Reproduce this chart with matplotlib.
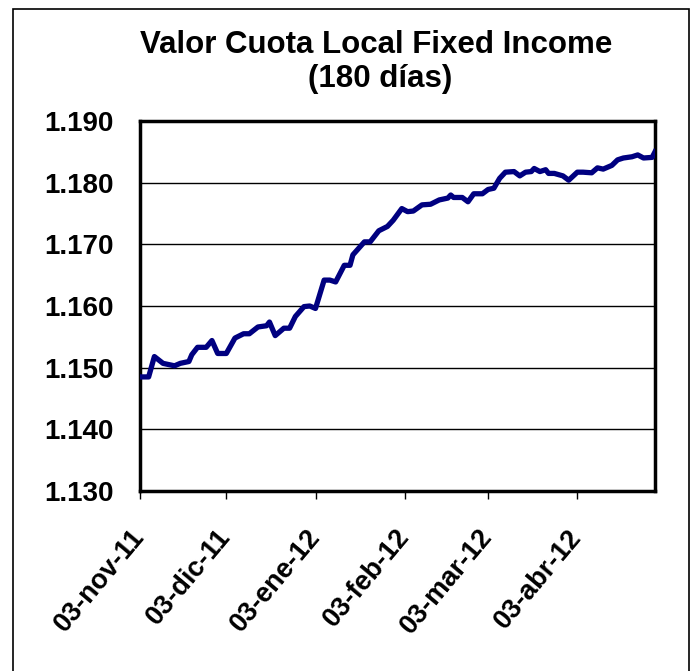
import numpy as np
import matplotlib
matplotlib.use('Agg')
import matplotlib.pyplot as plt
import matplotlib.dates as mdates
from matplotlib.patches import Rectangle
from datetime import datetime

plt.rcParams['font.family'] = ['Liberation Sans', 'DejaVu Sans']

# Values
dates = ['2011-11-03', '2011-11-06', '2011-11-08', '2011-11-11', '2011-11-15', '2011-11-17',
         '2011-11-20', '2011-11-21', '2011-11-23', '2011-11-26', '2011-11-28', '2011-11-30',
         '2011-12-03', '2011-12-06', '2011-12-09', '2011-12-11', '2011-12-14', '2011-12-17',
         '2011-12-18', '2011-12-20', '2011-12-23', '2011-12-25', '2011-12-27', '2011-12-30',
         '2012-01-01', '2012-01-03', '2012-01-06', '2012-01-08', '2012-01-10', '2012-01-13',
         '2012-01-15', '2012-01-16', '2012-01-20', '2012-01-22', '2012-01-25', '2012-01-28',
         '2012-01-30', '2012-02-02', '2012-02-04', '2012-02-06', '2012-02-09', '2012-02-12',
         '2012-02-15', '2012-02-18', '2012-02-19', '2012-02-20', '2012-02-23', '2012-02-25',
         '2012-02-27', '2012-03-01', '2012-03-03', '2012-03-05', '2012-03-07', '2012-03-09',
         '2012-03-12', '2012-03-14', '2012-03-16', '2012-03-18', '2012-03-19', '2012-03-21',
         '2012-03-23', '2012-03-24', '2012-03-26', '2012-03-29', '2012-03-31', '2012-04-03',
         '2012-04-05', '2012-04-08', '2012-04-10', '2012-04-12', '2012-04-15', '2012-04-17',
         '2012-04-19', '2012-04-22', '2012-04-24', '2012-04-26', '2012-04-29', '2012-04-30']
valor = [1.1485, 1.1485, 1.1518, 1.1507, 1.1503, 1.1507,
         1.1510, 1.1521, 1.1533, 1.1533, 1.1544, 1.1523,
         1.1523, 1.1548, 1.1555, 1.1555, 1.1566, 1.1568,
         1.1574, 1.1552, 1.1564, 1.1564, 1.1583, 1.1599,
         1.1600, 1.1596, 1.1642, 1.1642, 1.1639, 1.1666,
         1.1666, 1.1683, 1.1704, 1.1704, 1.1722, 1.1729,
         1.1739, 1.1758, 1.1753, 1.1754, 1.1764, 1.1765,
         1.1772, 1.1775, 1.1780, 1.1776, 1.1776, 1.1769,
         1.1782, 1.1782, 1.1789, 1.1791, 1.1807, 1.1817,
         1.1818, 1.1811, 1.1817, 1.1818, 1.1823, 1.1818,
         1.1821, 1.1815, 1.1815, 1.1811, 1.1804, 1.1817,
         1.1817, 1.1816, 1.1824, 1.1822, 1.1828, 1.1837,
         1.1840, 1.1842, 1.1845, 1.1840, 1.1841, 1.1850]

tick_dates = ['2011-11-03', '2011-12-03', '2012-01-03', '2012-02-03', '2012-03-03', '2012-04-03']
tick_labels = ['03-nov-11', '03-dic-11', '03-ene-12', '03-feb-12', '03-mar-12', '03-abr-12']
y_ticks = [1.130, 1.140, 1.150, 1.160, 1.170, 1.180, 1.190]

x = [datetime.strptime(d, '%Y-%m-%d') for d in dates]
xt = [datetime.strptime(d, '%Y-%m-%d') for d in tick_dates]

fig = plt.figure(figsize=(6.94, 6.71), dpi=100)
ax = fig.add_axes([140/694, 1 - 491/671, 515/694, 370/671])

ax.plot(x, valor, color='#000080', lw=3.8, solid_joinstyle='round', zorder=3)

ax.set_xlim(datetime(2011, 11, 3), datetime(2012, 4, 30))
ax.set_ylim(1.130, 1.190)
ax.set_yticks(y_ticks)
ax.set_yticklabels([f'{v:.3f}' for v in y_ticks], fontsize=20, fontweight='bold')
ax.set_xticks(xt)
ax.set_xticklabels(tick_labels, fontsize=19.5, fontweight='bold', rotation=50,
                   ha='right', va='center', rotation_mode='anchor')
ax.tick_params(axis='y', length=0, pad=19)
ax.tick_params(axis='x', length=6, width=1, direction='out', pad=24)

ax.grid(axis='y', color='black', lw=1)
for s in ax.spines.values():
    s.set_linewidth(2.5)

fig.text(376/694, 1 - 45/671, 'Valor Cuota Local Fixed Income', ha='center', va='center',
         fontsize=22.5, fontweight='bold')
fig.text(380/694, 1 - 79/671, '(180 días)', ha='center', va='center',
         fontsize=22.5, fontweight='bold')

fig.patches.append(Rectangle((13/694, -0.02), 676/694, 1 - 9/671 + 0.02,
                             transform=fig.transFigure, fill=False, edgecolor='black',
                             lw=1.2, clip_on=False))

fig.savefig('out.png', dpi=100)
